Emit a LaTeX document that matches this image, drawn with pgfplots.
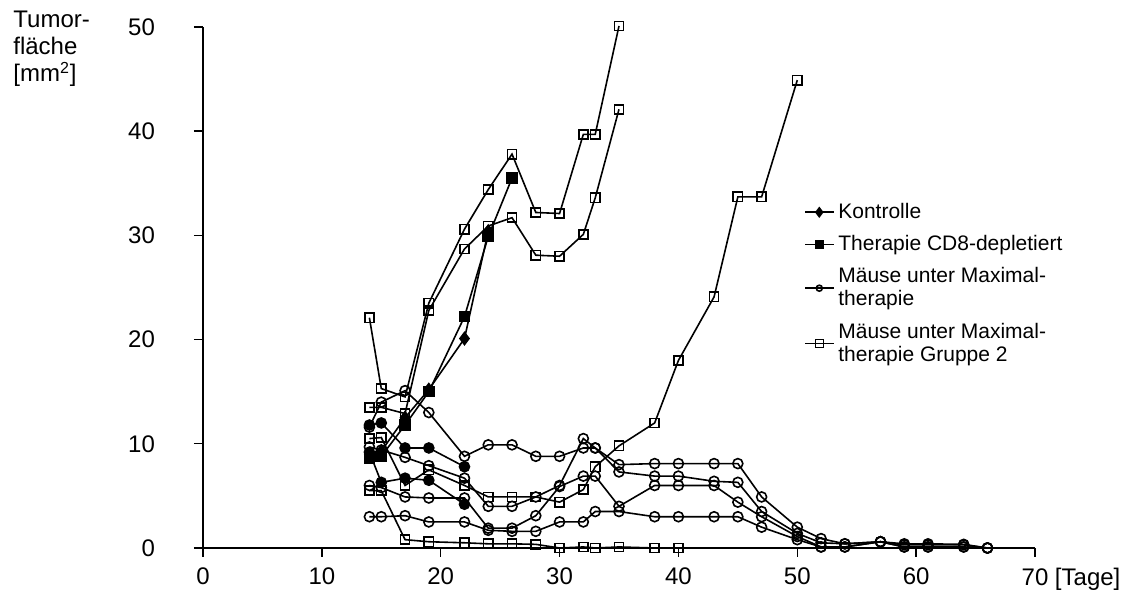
\documentclass[border=0pt]{standalone}
\usepackage{pgfplots}
\pgfplotsset{compat=1.18}
\usepackage{fontspec}
\setmainfont{Liberation Sans}
\begin{document}
\begin{tikzpicture}[font=\fontsize{12}{13.5}\selectfont]
\begin{axis}[
 scale only axis, width=416pt, height=260.5pt,
 xmin=0, xmax=70, ymin=0, ymax=50,
 axis lines=left, axis line style={-, line width=0.7pt},
 xtick={0,10,...,70}, ytick={0,10,...,50},
 xticklabels={0,10,20,30,40,50,60,{70\rlap{ [Tage]}}},
 tick align=outside, major tick length=4.5pt,
 tick style={black, line width=0.7pt},
 /pgf/number format/assume math mode=true,
 tick label style={font=\fontsize{12}{12}\selectfont},
 xticklabel style={yshift=-2pt},
 yticklabel style={xshift=-16pt},
 clip=false,
 legend style={at={(rel axis cs:0.715,0.678)}, anchor=north west, draw=none, fill=none,
   cells={align=left, anchor=west}, row sep=3pt, font=\fontsize{10.5}{11.5}\selectfont},
 legend cell align=left,
 legend image code/.code={\draw[mark repeat=2,mark phase=2] plot coordinates {(0cm,0cm) (0.25cm,0cm) (0.5cm,0cm)};},
 every axis plot/.append style={black, line width=0.8pt},
]
\addlegendimage{black, line width=0.8pt, mark=diamond*, mark size=2.2pt}
\addlegendentry{Kontrolle}
\addlegendimage{black, line width=0.8pt, mark=square*, mark size=2pt}
\addlegendentry{Therapie CD8-depletiert}
\addlegendimage{black, line width=0.8pt, mark=o, mark size=1.5pt}
\addlegendentry{Mäuse unter Maximal-\\therapie}
\addlegendimage{black, line width=0.8pt, mark=square, mark size=2pt}
\addlegendentry{Mäuse unter Maximal-\\therapie Gruppe 2}

% open circles (Maximaltherapie)
\addplot[mark=o, mark size=2.5pt, forget plot] coordinates {
(14,11.6)(15,14.0)(17,15.1)(19,13.0)(22,8.8)(24,9.9)(26,9.9)(28,8.8)(30,8.8)(32,9.6)(33,9.6)(35,8.0)(38,8.1)(40,8.1)(43,8.1)(45,8.1)(47,4.9)(50,2.0)(52,0.9)(54,0.4)(57,0.6)(59,0.4)(61,0.4)(64,0.35)(66,0)};
\addplot[mark=o, mark size=2.5pt, forget plot] coordinates {
(14,9.7)(15,9.4)(17,8.7)(19,7.9)(22,6.7)(24,4.0)(26,4.0)(28,4.9)(30,6.0)(32,10.5)(33,9.6)(35,7.3)(38,6.9)(40,6.9)(43,6.4)(45,6.3)(47,3.5)(50,1.4)(52,0.5)(54,0.4)(57,0.6)(59,0.3)(61,0.3)(64,0.3)(66,0)};
\addplot[mark=o, mark size=2.5pt, forget plot] coordinates {
(14,6.0)(15,5.8)(17,4.9)(19,4.8)(22,4.8)(24,1.9)(26,1.9)(28,3.1)(30,5.9)(32,6.9)(33,6.9)(35,4.0)(38,6.0)(40,6.0)(43,6.0)(45,4.4)(47,3.0)(50,1.1)(52,0.1)(54,0.1)(57,0.6)(59,0.1)(61,0.1)(64,0.1)(66,0)};
\addplot[mark=o, mark size=2.5pt, forget plot] coordinates {
(14,3.0)(15,3.0)(17,3.1)(19,2.5)(22,2.5)(24,1.7)(26,1.6)(28,1.6)(30,2.5)(32,2.5)(33,3.5)(35,3.5)(38,3.0)(40,3.0)(43,3.0)(45,3.0)(47,2.0)(50,0.8)(52,0.1)(54,0.1)(57,0.6)(59,0.1)(61,0.1)(64,0.1)(66,0)};

% open squares (Gruppe 2)
\addplot[mark=square, mark size=2.3pt, forget plot] coordinates {
(14,22.1)(15,15.3)(17,14.5)(19,23.5)(22,30.6)(24,34.4)(26,37.8)(28,32.2)(30,32.1)(32,39.7)(33,39.7)(35,50.1)};
\addplot[mark=square, mark size=2.3pt, forget plot] coordinates {
(14,13.5)(15,13.5)(17,12.9)(19,22.8)(22,28.7)(24,30.9)(26,31.7)(28,28.1)(30,28.0)(32,30.1)(33,33.6)(35,42.1)};
\addplot[mark=square, mark size=2.3pt, forget plot] coordinates {
(14,10.5)(15,10.6)(17,6.0)(19,7.5)(22,6.0)(24,4.9)(26,4.9)(28,4.9)(30,4.4)(32,5.6)(33,7.8)(35,9.8)(38,12.0)(40,18.0)(43,24.1)(45,33.7)(47,33.7)(50,44.9)};
\addplot[mark=square, mark size=2.3pt, forget plot] coordinates {
(14,5.5)(15,5.5)(17,0.8)(19,0.6)(22,0.5)(24,0.4)(26,0.4)(28,0.35)(30,0)(32,0.1)(33,0)(35,0.1)(38,0)(40,0)};

% filled circles
\addplot[mark=*, mark size=2.5pt, forget plot] coordinates {
(14,11.8)(15,12.0)(17,9.6)(19,9.6)(22,7.8)};
\addplot[mark=*, mark size=2.5pt, forget plot] coordinates {
(14,9.2)(15,6.3)(17,6.7)(19,6.5)(22,4.2)};

% Kontrolle (diamonds)
\addplot[mark=diamond*, mark size=3pt, forget plot] coordinates {
(14,9.0)(15,9.3)(17,12.5)(19,15.2)(22,20.1)(24,30.4)};
% Therapie CD8-depletiert (filled squares)
\addplot[mark=square*, mark size=2.5pt, forget plot] coordinates {
(14,8.6)(15,8.8)(17,11.8)(19,15.0)(22,22.2)(24,29.9)(26,35.5)};

\node[anchor=north west, align=left, inner sep=0pt, font=\fontsize{12}{13.5}\selectfont] at ([xshift=-95pt, yshift=8pt]rel axis cs:0,1)
  {Tumor-\\fläche\\{[}mm\textsuperscript{2}{]}};
\end{axis}
\path (current axis.south west) ++(-101.5pt,-31pt) rectangle ++(565pt,305pt);
\end{tikzpicture}
\end{document}
